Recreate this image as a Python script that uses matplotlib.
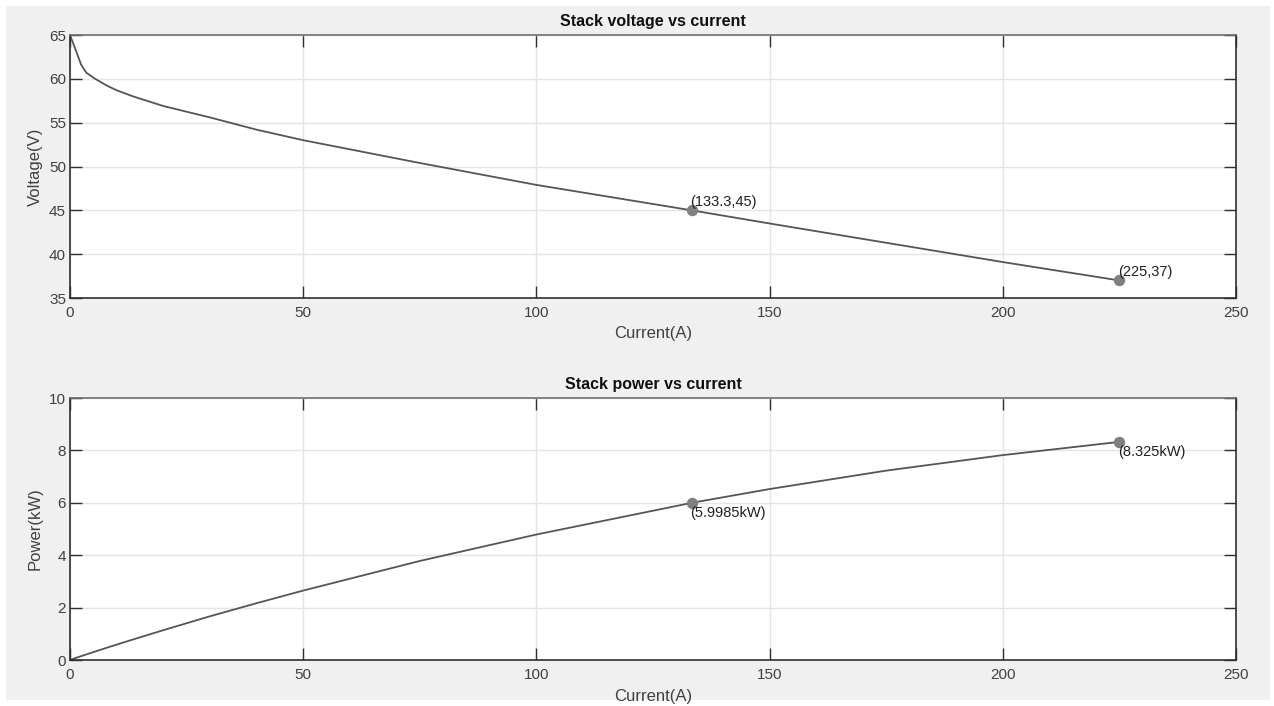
# coding: utf-8
"""
Stack voltage / power vs current, drawn MATLAB-like.
"""
import matplotlib
matplotlib.use("Agg")
import matplotlib.pyplot as plt
from matplotlib.patches import Rectangle

# data
current = [0, 1, 2.4, 3.5, 5.4, 8, 10, 13.5, 20, 30, 40, 50, 75, 100, 133.3, 150, 175, 200, 225]
voltage = [65, 63.6, 61.6, 60.7, 60.0, 59.2, 58.7, 58.0, 56.9, 55.6, 54.2, 53.0, 50.4, 47.9,
           45.0, 43.5, 41.3, 39.1, 37.0]
power_kw = [0, 0.064, 0.148, 0.212, 0.324, 0.474, 0.587, 0.783, 1.138, 1.668, 2.168, 2.65,
            3.78, 4.79, 5.9985, 6.525, 7.228, 7.82, 8.325]

v_marks_x = [133.3, 225]
v_marks_y = [45, 37]
v_marks_txt = ["(133.3,45)", "(225,37)"]
p_marks_x = [133.3, 225]
p_marks_y = [5.9985, 8.325]
p_marks_txt = ["(5.9985kW)", "(8.325kW)"]

W, H = 1274, 706
plt.rcParams["font.family"] = ["Liberation Sans", "DejaVu Sans"]
plt.rcParams["font.size"] = 11

LINE_C = "#555555"
MARK_C = "#808080"
TXT_C = "#404040"


def px_axes(fig, left, top, right, bottom):
    """add axes from pixel box."""
    return fig.add_axes([left / W, (H - bottom) / H, (right - left) / W, (bottom - top) / H])


def style_axes(ax):
    ax.set_facecolor("white")
    ax.grid(True, color="#e5e5e5", linewidth=1)
    ax.set_axisbelow(True)
    for sp in ax.spines.values():
        sp.set_color("#303030")
        sp.set_linewidth(1.2)
    ax.spines["top"].set_color("#707070")
    ax.tick_params(direction="in", length=8.5, width=1, colors="#303030",
                   labelcolor=TXT_C, labelsize=11, top=True, right=True)
    ax.tick_params(axis="x", pad=6)
    ax.tick_params(axis="y", pad=2.8)


fig = plt.figure(figsize=(W / 100, H / 100), dpi=100, facecolor="white")
fig.patches.append(Rectangle((6 / W, 6 / H), 1264 / W, 694 / H, transform=fig.transFigure,
                             facecolor="#f0f0f0", edgecolor="none", zorder=-10))

# top: voltage
ax1 = px_axes(fig, 70, 35, 1236, 298)
style_axes(ax1)
ax1.plot(current, voltage, color=LINE_C, linewidth=1.3)
ax1.plot(v_marks_x, v_marks_y, "o", color=MARK_C, markersize=7.2)
for x, y, t in zip(v_marks_x, v_marks_y, v_marks_txt):
    ax1.annotate(t, xy=(x, y), xytext=(-1, 1), textcoords="offset points",
                 ha="left", va="bottom", fontsize=10.5, color="#202020")
ax1.set_xlim(0, 250)
ax1.set_ylim(35, 65)
ax1.set_yticks(range(35, 66, 5))
ax1.set_xticks(range(0, 251, 50))
ax1.set_title("Stack voltage vs current", fontsize=11.5, fontweight="bold", color="#101010", pad=6.5)
ax1.set_xlabel("Current(A)", fontsize=12, color=TXT_C)
ax1.set_ylabel("Voltage(V)", fontsize=12, color=TXT_C)
ax1.xaxis.set_label_coords(0.5, -0.108)
ax1.yaxis.set_label_coords(-0.0235, 0.5)

# bottom: power
ax2 = px_axes(fig, 70, 398, 1236, 660)
style_axes(ax2)
ax2.plot(current, power_kw, color=LINE_C, linewidth=1.3)
ax2.plot(p_marks_x, p_marks_y, "o", color=MARK_C, markersize=7.2)
for x, y, t in zip(p_marks_x, p_marks_y, p_marks_txt):
    ax2.annotate(t, xy=(x, y), xytext=(-1, -2), textcoords="offset points",
                 ha="left", va="top", fontsize=10.5, color="#202020")
ax2.set_xlim(0, 250)
ax2.set_ylim(0, 10)
ax2.set_yticks(range(0, 11, 2))
ax2.set_xticks(range(0, 251, 50))
ax2.set_title("Stack power vs current", fontsize=11.5, fontweight="bold", color="#101010", pad=6.5)
ax2.set_xlabel("Current(A)", fontsize=12, color=TXT_C)
ax2.set_ylabel("Power(kW)", fontsize=12, color=TXT_C)
ax2.xaxis.set_label_coords(0.5, -0.112)
ax2.yaxis.set_label_coords(-0.0235, 0.5)

fig.savefig("out.png", dpi=100, facecolor=fig.get_facecolor())
